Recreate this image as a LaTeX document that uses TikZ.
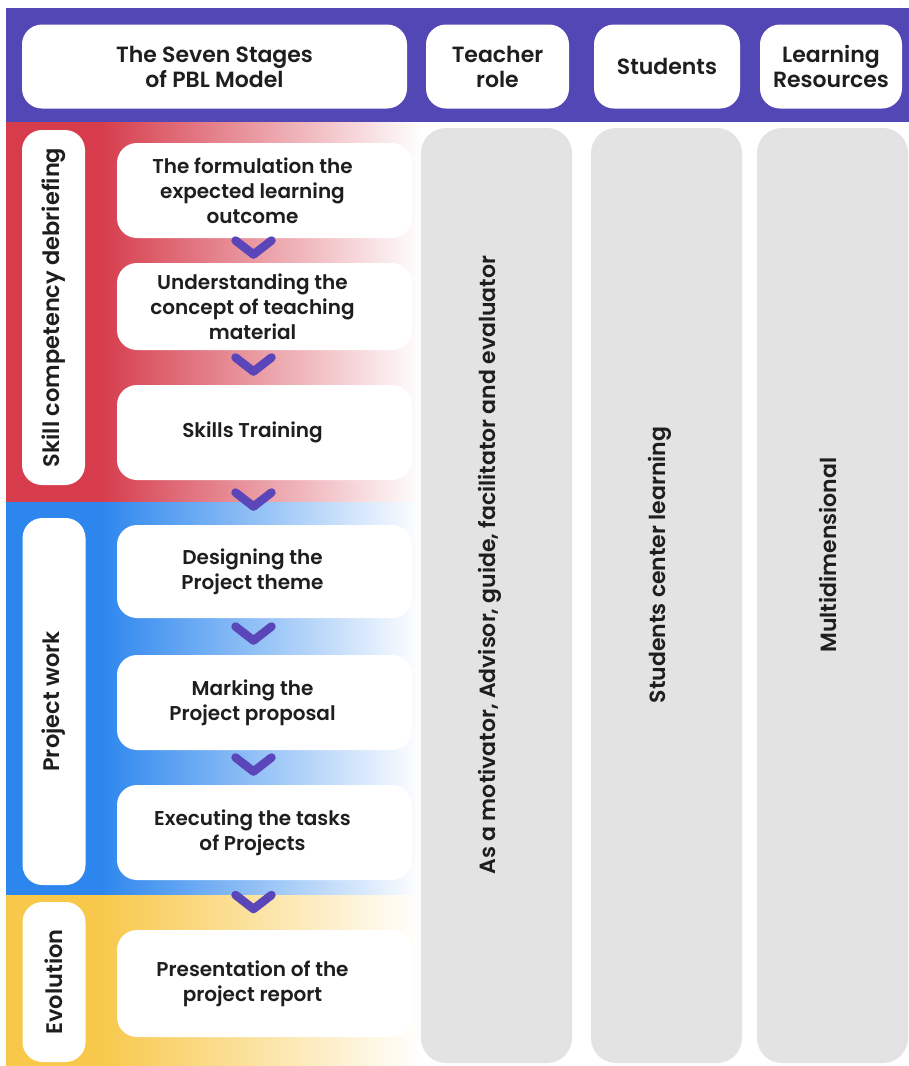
\documentclass[tikz,border=0pt]{standalone}
\usepackage{fontspec}
\setmainfont{Poppins}[BoldFont={Poppins SemiBold}]
\usetikzlibrary{calc}
\definecolor{hdr}{HTML}{5347B5}
\definecolor{redb}{HTML}{D63C4C}
\definecolor{blueb}{HTML}{2C86EE}
\definecolor{yelb}{HTML}{F7C84A}
\definecolor{colgray}{HTML}{E3E3E3}
\definecolor{txt}{HTML}{1E1E1E}
\definecolor{chev}{HTML}{5A46B8}
\tikzset{
  hbox/.style={fill=white, rounded corners=20pt, align=center, text=txt, font=\bfseries\fontsize{22}{25}\selectfont, inner sep=0pt},
  stepbox/.style={fill=white, rounded corners=20pt, minimum width=295pt, inner sep=0pt},
  steptext/.style={align=center, text=txt, font=\bfseries\fontsize{20}{25}\selectfont, inner sep=0pt},
  sidelab/.style={fill=white, rounded corners=20pt, rotate=90, text=txt, font=\bfseries\fontsize{22.5}{25}\selectfont, minimum height=63pt, inner sep=0pt},
  colbox/.style={fill=colgray, rounded corners=25pt, minimum width=151pt, minimum height=935pt, inner sep=0pt},
  coltext/.style={rotate=90, text=txt, font=\bfseries\fontsize{22}{25}\selectfont, inner sep=0pt},
  chevron/.style={draw=chev, line width=8.5pt, line cap=round, line join=round}
}
\newcommand{\chevbetween}[2]{\draw[chevron] ($(#1.south)!0.5!(#2.north)+(-11,0)$) ++(-18,-10) -- ++(18,14) -- ++(18,-14);}
\newcommand{\stepnode}[5]{%
  \node[stepbox, minimum height=#4] (#1) at (#2,#3) {};
  \node[steptext] (#1t) at ($(#1)+(-12,0)$) {#5};}
\begin{document}
\begin{tikzpicture}[x=1pt,y=-1pt]
\useasboundingbox (0,0) rectangle (909,1066);
\fill[white] (0,0) rectangle (909,1066);
% header band
\fill[hdr] (6,8) rectangle (909,122);
% coloured bands
\fill[redb] (6,122) rectangle (100,502);
\shade[left color=redb, right color=white] (100,122) rectangle (422,502);
\fill[blueb] (6,502) rectangle (100,895);
\shade[left color=blueb, right color=white] (100,502) rectangle (422,895);
\fill[yelb] (6,895) rectangle (100,1066);
\shade[left color=yelb, right color=white] (100,895) rectangle (422,1066);
% gray columns
\node[colbox] (c1) at (496.5,595.5) {};
\node[colbox] (c2) at (666.5,595.5) {};
\node[colbox] (c3) at (832.5,595.5) {};
\node[coltext] (t1) at (490,565) {As a motivator, Advisor, guide, facilitator and evaluator};
\node[coltext] (t2) at (660,565) {Students center learning};
\node[coltext] (t3) at (828,555) {Multidimensional};
% header boxes
\node[hbox, minimum width=385pt, minimum height=84pt] (h1) at (214.5,66.5) {The Seven Stages\\of PBL Model};
\node[hbox, minimum width=143pt, minimum height=84pt] (h2) at (497.5,66.5) {Teacher\\role};
\node[hbox, minimum width=146pt, minimum height=84pt] (h3) at (667,66.5) {Students};
\node[hbox, minimum width=142pt, minimum height=84pt] (h4) at (831,66.5) {Learning\\Resources};
% side labels
\node[sidelab, minimum width=355pt] (l1) at (53.5,307.5) {Skill competency debriefing};
\node[sidelab, minimum width=367pt] (l2) at (54,701.5) {Project work};
\node[sidelab, minimum width=160pt] (l3) at (54,982) {Evolution};
% steps
\stepnode{s1}{264.5}{190.5}{95pt}{The formulation the\\expected learning\\outcome}
\stepnode{s2}{264.5}{306.5}{87pt}{Understanding the\\concept of teaching\\material}
\stepnode{s3}{264.5}{432.5}{95pt}{Skills Training}
\stepnode{s4}{264.5}{571.5}{93pt}{Designing the\\Project theme}
\stepnode{s5}{264.5}{702.5}{95pt}{Marking the\\Project proposal}
\stepnode{s6}{264.5}{832.5}{95pt}{Executing the tasks\\of Projects}
\stepnode{s7}{264.5}{983.5}{107pt}{Presentation of the\\project report}
% chevrons
\chevbetween{s1}{s2}
\chevbetween{s2}{s3}
\chevbetween{s3}{s4}
\chevbetween{s4}{s5}
\chevbetween{s5}{s6}
\chevbetween{s6}{s7}
\end{tikzpicture}
\end{document}
